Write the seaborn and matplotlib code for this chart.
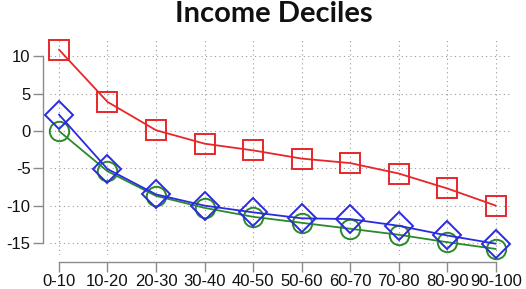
import matplotlib
matplotlib.use("Agg")
import matplotlib.pyplot as plt
import seaborn as sns
import numpy as np

categories = ["0-10", "10-20", "20-30", "30-40", "40-50", "50-60", "60-70", "70-80", "80-90", "90-100"]
red_squares = [10.9, 3.9, 0.1, -1.7, -2.6, -3.7, -4.3, -5.7, -7.7, -10.0]
green_circles = [0.0, -5.4, -8.7, -10.3, -11.5, -12.3, -13.1, -13.9, -14.9, -15.8]
blue_diamonds = [2.2, -5.1, -8.5, -10.0, -10.9, -11.7, -11.8, -12.7, -14.0, -15.1]
yticks = [-15, -10, -5, 0, 5, 10]

sns.set_theme(style="white")
plt.rcParams["font.family"] = ["Liberation Sans", "DejaVu Sans"]
plt.rcParams["axes.unicode_minus"] = False

fig = plt.figure(figsize=(5.26, 2.89), dpi=100)
ax = fig.add_axes([0.095, 0.118, 0.878, 0.744])

x = np.arange(len(categories))
series = [
    (green_circles, "#2a8a2a", "o", 14),
    (red_squares, "#e8262a", "s", 14),
    (blue_diamonds, "#2a2ae0", "D", 14),
]
for vals, col, mk, ms in series:
    sns.lineplot(x=x, y=vals, ax=ax, color=col, linewidth=1.3, marker=mk,
                 markersize=ms, markerfacecolor="none", markeredgecolor=col,
                 markeredgewidth=1.4, sort=False, clip_on=False, zorder=3)

ax.set_xlim(-0.185, 9.33)
ax.set_ylim(-16.6, 12.2)
ax.set_xticks(x)
ax.set_xticklabels(categories)
ax.set_yticks(yticks)
ax.grid(True, linestyle=(0, (1, 3)), color="#9a9a9a", linewidth=0.8)
ax.tick_params(axis="both", which="both", direction="out", length=7, width=1,
               color="#8a8a8a", labelsize=12, labelcolor="#111111", pad=2,
               left=True, bottom=True)
sns.despine(ax=ax, offset=5, trim=True)
for s in ["left", "bottom"]:
    ax.spines[s].set_color("#8a8a8a")
    ax.spines[s].set_linewidth(1.0)

fig.suptitle("Income Deciles", x=0.52, y=0.995, fontsize=21, fontweight="bold",
             family=["Lato", "DejaVu Sans"], color="#111111")

fig.savefig("out.png", dpi=100)
